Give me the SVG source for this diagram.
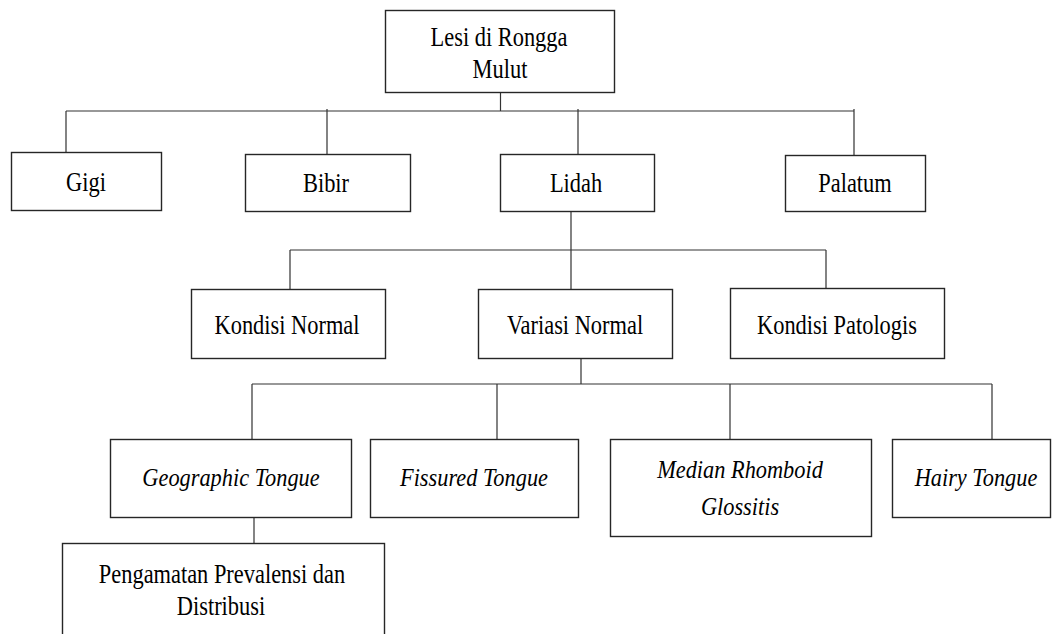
<svg xmlns="http://www.w3.org/2000/svg" width="1052" height="634" viewBox="0 0 1052 634">
<style>
.box{fill:#fff;stroke:#262626;stroke-width:1.4}
text{font-family:'Liberation Serif','Times New Roman',serif;font-size:27px;fill:#000;text-anchor:middle}
.i{font-style:italic;font-size:26px}
.c{stroke:#333;stroke-width:1.2;fill:none}
</style>
<rect width="1052" height="634" fill="#fff"/>
<g id="connectors">
<path class="c" d="M500.5 93V111M66 111H854M66 111V152M327 109V154M578 109V154M854 109V155"/>
<path class="c" d="M571 212V289M290 250H826M290 250V289M826 250V289"/>
<path class="c" d="M581 359V384M252 384H992M252 384V439M497 384V439M730 384V439M992 384V439"/>
<path class="c" d="M254 517V543"/>
</g>
<g id="n-root"><rect class="box" x="385.5" y="10.5" width="229" height="82"/>
<text transform="translate(499 46) scale(0.83 1)">Lesi di Rongga</text>
<text transform="translate(500 78) scale(0.83 1)">Mulut</text></g>
<g id="n-gigi"><rect class="box" x="11.5" y="152.5" width="150" height="58"/>
<text transform="translate(86 191) scale(0.83 1)">Gigi</text></g>
<g id="n-bibir"><rect class="box" x="245.5" y="154.5" width="165" height="57"/>
<text transform="translate(326 192) scale(0.83 1)">Bibir</text></g>
<g id="n-lidah"><rect class="box" x="500.5" y="154.5" width="154" height="57"/>
<text transform="translate(576 192) scale(0.83 1)">Lidah</text></g>
<g id="n-palatum"><rect class="box" x="785.5" y="155.5" width="140" height="56"/>
<text transform="translate(855 192) scale(0.83 1)">Palatum</text></g>
<g id="n-kn"><rect class="box" x="191.5" y="289.5" width="194" height="69"/>
<text transform="translate(287 334) scale(0.83 1)">Kondisi Normal</text></g>
<g id="n-vn"><rect class="box" x="478.5" y="289.5" width="194" height="69"/>
<text transform="translate(575 334) scale(0.83 1)">Variasi Normal</text></g>
<g id="n-kp"><rect class="box" x="730.5" y="288.5" width="214" height="70"/>
<text transform="translate(837 334) scale(0.83 1)">Kondisi Patologis</text></g>
<g id="n-geo"><rect class="box" x="110.5" y="439.5" width="241" height="78"/>
<text class="i" transform="translate(231 486) scale(0.86 1)">Geographic Tongue</text></g>
<g id="n-fis"><rect class="box" x="370.5" y="439.5" width="208" height="78"/>
<text class="i" transform="translate(474 486) scale(0.86 1)">Fissured Tongue</text></g>
<g id="n-mrg"><rect class="box" x="610.5" y="439.5" width="261" height="97"/>
<text class="i" transform="translate(740 478) scale(0.86 1)">Median Rhomboid</text>
<text class="i" transform="translate(740 515) scale(0.86 1)">Glossitis</text></g>
<g id="n-hairy"><rect class="box" x="892.5" y="439.5" width="158" height="78"/>
<text class="i" transform="translate(976 486) scale(0.86 1)">Hairy Tongue</text></g>
<g id="n-peng"><rect class="box" x="62.5" y="543.5" width="322" height="110"/>
<text transform="translate(222 583) scale(0.83 1)">Pengamatan Prevalensi dan</text>
<text transform="translate(221 615) scale(0.83 1)">Distribusi</text></g>
</svg>
